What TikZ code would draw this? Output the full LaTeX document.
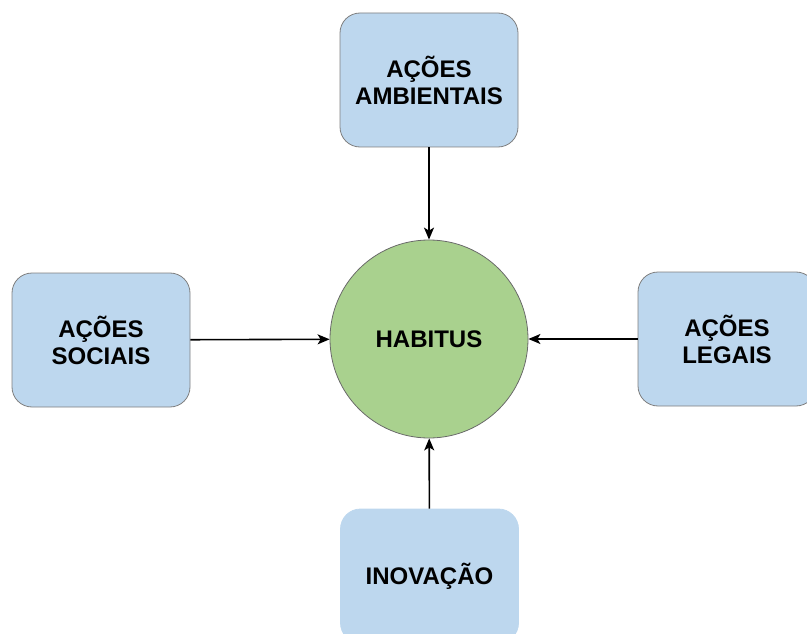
\documentclass[tikz,border=0pt]{standalone}
\usepackage{fontspec}
\setmainfont{Liberation Sans}
\usetikzlibrary{arrows.meta}
\definecolor{boxfill}{HTML}{BDD7EE}
\definecolor{boxline}{HTML}{7F7F7F}
\definecolor{circfill}{HTML}{A9D18E}
\definecolor{circline}{HTML}{6A6A6A}
\tikzset{
  boxnode/.style={rectangle, rounded corners=20pt, draw=boxline, line width=0.8pt, fill=boxfill,
    minimum width=178pt, minimum height=134pt, align=center,
    font=\fontsize{24}{27}\selectfont\bfseries},
  plainbox/.style={boxnode, draw=boxfill},
  hub/.style={circle, draw=circline, line width=0.8pt, fill=circfill, minimum size=198pt,
    inner sep=0pt, font=\fontsize{24}{27}\selectfont\bfseries},
  link/.style={draw=black, line width=1.6pt, -{Stealth[length=12pt,width=10pt,inset=3pt]}}
}
\begin{document}
\begin{tikzpicture}[x=1pt,y=-1pt]
\useasboundingbox (0,0) rectangle (807,634);
\clip (0,0) rectangle (807,634);
\node[hub] (h) at (429,339) {HABITUS};
\node[boxnode] (amb) at (429,80) {AÇÕES\\AMBIENTAIS};
\node[boxnode] (soc) at (101,340) {AÇÕES\\SOCIAIS};
\node[boxnode] (leg) at (727,339) {AÇÕES\\LEGAIS};
\node[plainbox] (ino) at (429.5,576) {INOVAÇÃO};
\draw[link] (amb) -- (h);
\draw[link] (soc) -- (h);
\draw[link] (leg) -- (h);
\draw[link] (ino) -- (h);
\end{tikzpicture}
\end{document}
